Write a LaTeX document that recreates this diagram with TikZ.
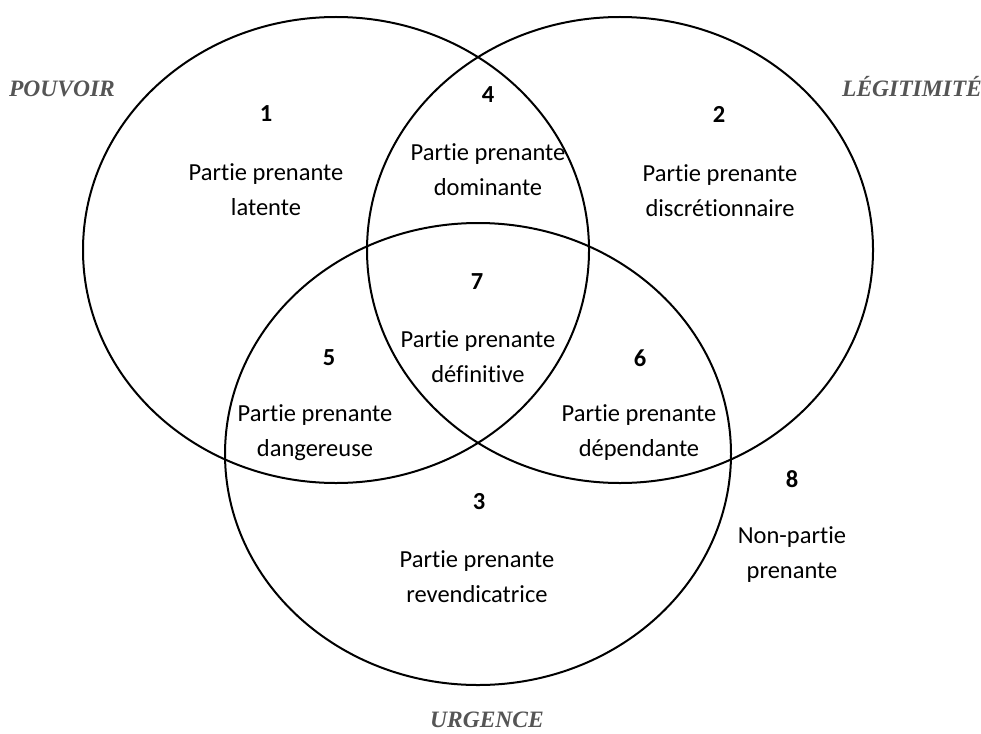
\documentclass[tikz,border=0pt]{standalone}
\usepackage{fontspec}
\setmainfont[Ligatures=NoCommon]{Carlito}
\newfontfamily\labfont{Liberation Serif}
\usetikzlibrary{shapes.geometric}
\definecolor{labgray}{RGB}{85,85,85}
\begin{document}
\begin{tikzpicture}[x=1pt,y=-1pt,
  venn/.style={ellipse, draw, line width=2pt, minimum width=506pt, minimum height=466pt, inner sep=0pt},
  num/.style={font=\fontsize{24.5}{30}\selectfont\bfseries},
  txt/.style={align=center, inner sep=0pt, font=\fontsize{24.5}{35}\selectfont},
  setlab/.style={anchor=base, inner sep=0pt, font=\labfont\fontsize{23.5}{28}\selectfont\bfseries\itshape, text=labgray}]
\useasboundingbox (0,0) rectangle (981,733);
\node[venn] (P) at (336,250) {};
\node[venn] (L) at (620,250) {};
\node[venn, minimum height=462pt] (U) at (478,454) {};
% numbers
\node[num] (n1) at (266,114) {1};
\node[num] (n4) at (488,95) {4};
\node[num] (n2) at (719,114) {2};
\node[num] (n7) at (477,282) {7};
\node[num] (n5) at (329,358) {5};
\node[num] (n6) at (640,358) {6};
\node[num] (n3) at (479,502) {3};
\node[num] (n8) at (792,479) {8};
% texts
\node[txt] (t1) at (266,190) {Partie prenante\\latente};
\node[txt] (t4) at (488,170) {Partie prenante\\dominante};
\node[txt] (t2) at (720,191) {Partie prenante\\discrétionnaire};
\node[txt] (t7) at (478,357) {Partie prenante\\définitive};
\node[txt] (t5) at (315,433) {Partie prenante\\dangereuse};
\node[txt] (t6) at (639,433) {Partie prenante\\dépendante};
\node[txt] (t3) at (477,577) {Partie prenante\\revendicatrice};
\node[txt] (t8) at (792,555) {Non-partie\\prenante};
% set labels
\node[setlab] (lp) at (62,97) {POUVOIR};
\node[setlab] (ll) at (912,97) {LÉGITIMITÉ};
\node[setlab] (lu) at (487,727) {URGENCE};
\end{tikzpicture}
\end{document}
